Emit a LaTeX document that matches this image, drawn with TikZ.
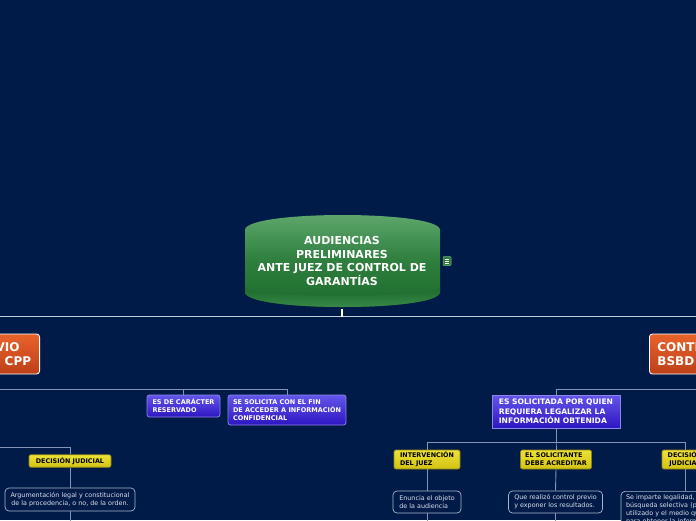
\documentclass[tikz,border=0pt]{standalone}
\usepackage{fontspec}
\setmainfont{DejaVu Sans}
\usetikzlibrary{calc}
\definecolor{bg}{HTML}{001B48}
\definecolor{lineC}{HTML}{8394B4}
\definecolor{mainL}{HTML}{C4CCDC}
\definecolor{gT}{HTML}{62AA70}
\definecolor{gM}{HTML}{2E7E3E}
\definecolor{gD}{HTML}{1B6A2B}
\definecolor{gR}{HTML}{3F8F4F}
\definecolor{oT}{HTML}{E8622A}
\definecolor{oD}{HTML}{BE401A}
\definecolor{bT}{HTML}{6456EA}
\definecolor{bD}{HTML}{2C16C2}
\definecolor{bB}{HTML}{8C86EA}
\definecolor{yT}{HTML}{EEE236}
\definecolor{yD}{HTML}{D2C214}
\definecolor{yB}{HTML}{8A8418}
\definecolor{wB}{HTML}{A8B4C8}
\definecolor{wT}{HTML}{DCE0EA}
\tikzset{
  conn/.style={draw=lineC, line width=0.9pt},
  mainconn/.style={draw=mainL, line width=1.4pt},
  ctext/.style={text=white, font=\fontsize{11}{13.5}\selectfont\bfseries, align=center, minimum width=195pt, minimum height=96pt, inner sep=0pt},
  orangebox/.style={draw=white, line width=0.8pt, top color=oT, bottom color=oD, rounded corners=3pt, text=white, font=\fontsize{12}{14}\selectfont\bfseries, inner xsep=8pt, minimum height=40pt},
  bluebox/.style={draw=bB, line width=0.8pt, top color=bT, bottom color=bD, rounded corners=2.5pt, text=white, font=\fontsize{6.5}{8}\selectfont\bfseries, align=left, inner sep=0pt},
  bluesq/.style={draw=bB, line width=0.8pt, top color=bT, bottom color=bD, text=white, font=\fontsize{7.6}{9.5}\selectfont\bfseries, align=left, inner sep=0pt},
  yellowbox/.style={draw=yB, line width=0.7pt, top color=yT, bottom color=yD, rounded corners=2pt, text=black, font=\fontsize{6.4}{8}\selectfont\bfseries, inner sep=0pt},
  whitebox/.style={draw=wB, line width=0.7pt, fill=bg, rounded corners=4pt, text=wT, font=\fontsize{6.4}{8}\selectfont, inner sep=0pt},
}
\begin{document}
\begin{tikzpicture}[x=1pt,y=-1pt]
\useasboundingbox (0,0) rectangle (696,520);
\clip (0,0) rectangle (696,520);
\fill[bg] (0,0) rectangle (696,520);

% central topic shape
\path[top color=gT, bottom color=gD, middle color=gM]
  (245,230) .. controls (245,210) and (440,210) .. (440,230) -- (440,292)
  .. controls (440,312) and (245,312) .. (245,292) -- cycle;
\path[top color=gD, bottom color=gR]
  (245,287) .. controls (245,299) and (440,299) .. (440,287) -- (440,292)
  .. controls (440,312) and (245,312) .. (245,292) -- cycle;
\node[ctext] (c) at (342,261) {AUDIENCIAS\\PRELIMINARES\\ANTE JUEZ DE CONTROL DE\\GARANTÍAS};

% note icon
\node[draw=gR!70!white, line width=0.5pt, fill=gM, rounded corners=1pt, minimum width=8pt, minimum height=9pt, inner sep=0pt] (ic) at (447,261) {};
\draw[white, line width=0.7pt] ($(ic.center)+(-2.2,-2)$) -- ++(4.4,0)
  ($(ic.center)+(-2.2,0)$) -- ++(4.4,0) ($(ic.center)+(-2.2,2)$) -- ++(4.4,0);

% main topics
\node[orangebox, align=center, anchor=east] (L) at (40,354) {CONTROL PREVIO\hspace*{12pt}\\BSBD ART. 244 CPP};
\node[orangebox, align=left, anchor=west] (R) at (649,354) {CONTROL POSTERIOR\\BSBD ART. 237 CPP};

\draw[mainconn] ($(c.south)+(0,7)$) -| (L.north);
\draw[mainconn] ($(c.south)+(0,7)$) -| (R.north);
\draw[white, line width=1.4pt] (c.south) -- ($(c.south)+(0,7.5)$);

% left subtopics
\node[bluebox, minimum width=73pt, minimum height=22pt] (b1) at (183.5,406) {ES DE CARÁCTER\\RESERVADO};
\node[bluebox, minimum width=118pt, minimum height=30pt] (b2) at (287,410) {SE SOLICITA CON EL FIN\\DE ACCEDER A INFORMACIÓN\\CONFIDENCIAL};
\draw[conn] (L.south) -- ++(0,15) -| (b1.north);
\draw[conn] (L.south) -- ++(0,15) -| (b2.north);

\coordinate (lp) at (-30,447.5);
\node[yellowbox, minimum width=82pt, minimum height=12.5pt] (yl) at (70,461) {DECISIÓN JUDICIAL};
\draw[conn] (lp) -| (yl.north);
\node[whitebox, align=center, minimum width=130pt, minimum height=23pt] (w0) at (70,499.5) {Argumentación legal y constitucional\\de la procedencia, o no, de la orden.};
\draw[conn] (yl.south) -- (w0.north);
\coordinate (e0) at (70,530);
\draw[conn] (w0.south) -- (e0);

% right subtopics
\node[bluesq, minimum width=128pt, minimum height=33pt] (b3) at (556,411.5) {ES SOLICITADA POR QUIEN\\REQUIERA LEGALIZAR LA\\INFORMACIÓN OBTENIDA};
\draw[conn] (R.south) -- ++(0,15) -| (b3.north);

\node[yellowbox, align=left, minimum width=66pt, minimum height=19pt] (y1) at (427,459.5) {INTERVENCIÓN\\DEL JUEZ};
\node[yellowbox, align=left, minimum width=71pt, minimum height=19pt] (y2) at (556,459.5) {EL SOLICITANTE\\DEBE ACREDITAR};
\node[yellowbox, align=center, minimum width=46pt, minimum height=19pt] (y3) at (685,459.5) {DECISIÓN\\JUDICIAL};
\draw[conn] (b3.south) -- ++(0,14) -| (y1.north);
\draw[conn] (b3.south) -- ++(0,14) -| (y2.north);
\draw[conn] (b3.south) -- ++(0,14) -| (y3.north);

\node[whitebox, align=left, minimum width=68pt, minimum height=22pt] (w1) at (427,502) {Enuncia el objeto\\de la audiencia};
\node[whitebox, align=left, minimum width=94pt, minimum height=22pt] (w2) at (555.5,502) {Que realizó control previo\\y exponer los resultados.};
\node[whitebox, align=left, text width=118pt, inner xsep=5pt, inner ysep=3pt, anchor=north] (w3) at (685,491) {Se imparte legalidad, o no, a la\\búsqueda selectiva (procedimiento\\utilizado y el medio que se usó\\para obtener la información).};
\draw[conn] (y1.south) -- (w1.north);
\draw[conn] (y2.south) -- (w2.north);
\draw[conn] (y3.south) -- (w3.north);
\coordinate (e1) at (427,530);
\coordinate (e2) at (555.5,530);
\draw[conn] (w1.south) -- (e1);
\draw[conn] (w2.south) -- (e2);
\end{tikzpicture}
\end{document}
